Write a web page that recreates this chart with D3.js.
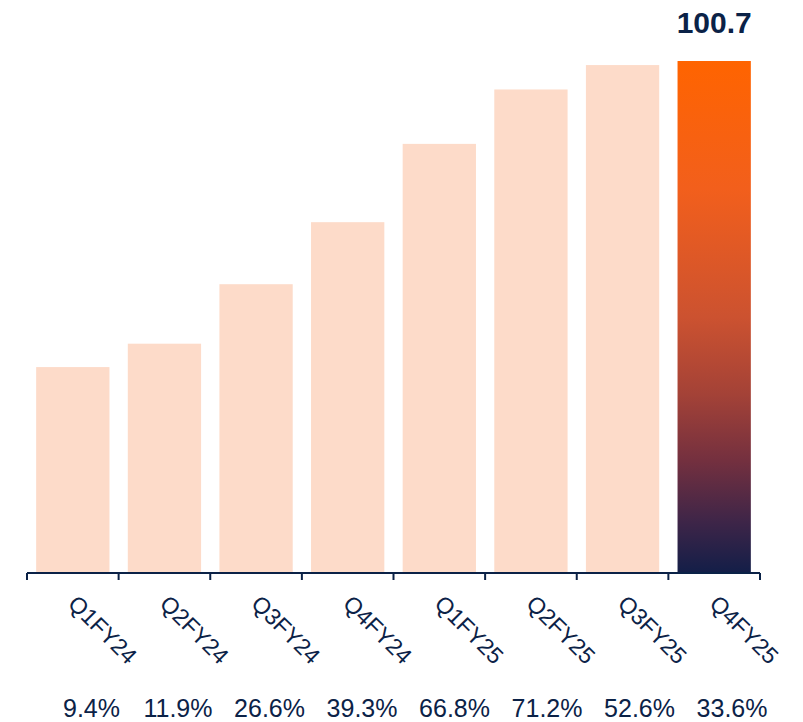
<!DOCTYPE html>
<html lang="en">
<head>
    <meta charset="UTF-8">
    <title>Quarterly chart</title>
    <script src="https://d3js.org/d3.v7.min.js"></script>
    <style>
        body {
            margin: 0;
            background: #ffffff;
            font-family: 'Liberation Sans', Arial, sans-serif;
        }
        svg { display: block; }
    </style>
</head>
<body>
    <svg width="803" height="722"></svg>

    <script>
        // chart data
        const quarters = ["Q1FY24", "Q2FY24", "Q3FY24", "Q4FY24", "Q1FY25", "Q2FY25", "Q3FY25", "Q4FY25"];
        const values = [40.5, 45.1, 56.8, 69.0, 84.4, 95.1, 99.9, 100.7];
        const growth = ["9.4%", "11.9%", "26.6%", "39.3%", "66.8%", "71.2%", "52.6%", "33.6%"];

        const navy = "#0b2247";
        const lightBar = "#fddbc9";

        const svg = d3.select("svg");
        const baseY = 573;

        const data = quarters.map((q, i) => ({ q: q, v: values[i], g: growth[i] }));

        const x = d3.scaleBand()
                    .domain(quarters)
                    .range([27, 760])
                    .paddingInner(0.2)
                    .paddingOuter(0.1);

        const y = d3.scaleLinear()
                    .domain([0, d3.max(values)])
                    .range([baseY, 61]);

        // growth row sits on its own (right aligned) positions
        const gx = d3.scalePoint()
                     .domain(quarters)
                     .range([120, 767.5]);

        // gradient for the latest quarter
        const grad = svg.append("defs")
           .append("linearGradient")
           .attr("id", "lastGrad")
           .attr("x1", "0%").attr("y1", "0%")
           .attr("x2", "0%").attr("y2", "100%");
        grad.selectAll("stop")
           .data([
               {offset: "0%", color: "#ff6400"},
               {offset: "25%", color: "#f25f1c"},
               {offset: "50%", color: "#cc5230"},
               {offset: "65%", color: "#a44237"},
               {offset: "78%", color: "#74303f"},
               {offset: "90%", color: "#3e2548"},
               {offset: "100%", color: "#131e48"}
           ])
           .enter()
           .append("stop")
           .attr("offset", d => d.offset)
           .attr("stop-color", d => d.color);

        const last = quarters[quarters.length - 1];

        // bars
        svg.selectAll(".bar")
           .data(data)
           .enter()
           .append("rect")
           .attr("class", "bar")
           .attr("x", d => x(d.q))
           .attr("y", d => y(d.v))
           .attr("width", x.bandwidth())
           .attr("height", d => baseY - y(d.v))
           .attr("fill", d => d.q === last ? "url(#lastGrad)" : lightBar);

        // value label only on the latest bar
        const lastD = data[data.length - 1];
        svg.append("text")
           .attr("x", x(lastD.q) + x.bandwidth() / 2)
           .attr("y", y(lastD.v) - 28)
           .attr("text-anchor", "middle")
           .style("font-size", "30px")
           .style("font-weight", "bold")
           .attr("fill", navy)
           .text(lastD.v.toFixed(1));

        // axis line + ticks at band edges
        const gap = (x.step() - x.bandwidth()) / 2;
        const edges = quarters.map(q => x(q) - gap).concat([x.range()[1]]);

        svg.append("line")
           .attr("x1", x.range()[0]).attr("x2", x.range()[1])
           .attr("y1", baseY).attr("y2", baseY)
           .attr("stroke", navy)
           .attr("stroke-width", 2);

        svg.selectAll(".tick")
           .data(edges)
           .enter()
           .append("line")
           .attr("class", "tick")
           .attr("x1", d => d).attr("x2", d => d)
           .attr("y1", baseY).attr("y2", baseY + 7)
           .attr("stroke", navy)
           .attr("stroke-width", 2);

        // rotated quarter labels
        svg.selectAll(".qlabel")
           .data(data)
           .enter()
           .append("text")
           .attr("class", "qlabel")
           .attr("transform", d => `translate(${x(d.q) + x.bandwidth() / 2 - 6},605) rotate(45)`)
           .attr("text-anchor", "start")
           .style("font-size", "23px")
           .attr("fill", navy)
           .text(d => d.q);

        // growth row
        svg.selectAll(".glabel")
           .data(data)
           .enter()
           .append("text")
           .attr("class", "glabel")
           .attr("x", d => gx(d.q))
           .attr("y", 717)
           .attr("text-anchor", "end")
           .style("font-size", "25px")
           .attr("fill", navy)
           .text(d => d.g);
    </script>
</body>
</html>
